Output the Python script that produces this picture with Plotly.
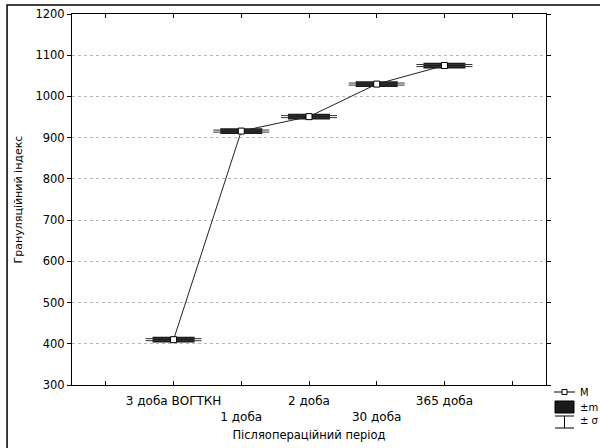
import plotly.graph_objects as go

# ---- data ----
categories = ["3 доба ВОГТКН", "1 доба", "2 доба", "30 доба", "365 доба"]
positions = [1, 2, 3, 4, 5]
mean_M = [410, 916, 951, 1030, 1075]
sem_m = [7, 7, 7, 7, 7]
sd_sigma = [2.5, 2.5, 2.5, 2.5, 2.5]
y_ticks = [300, 400, 500, 600, 700, 800, 900, 1000, 1100, 1200]

FONT = "DejaVu Sans"

# alternate labels between two rows
tick_vals = [0] + positions + [6]
tick_text = [""] + [c if i % 2 == 0 else "<br>" + c for i, c in enumerate(categories)] + [""]

fig = go.Figure()

# ±m boxes
fig.add_trace(go.Bar(
    x=positions,
    y=[2 * m for m in sem_m],
    base=[M - m for M, m in zip(mean_M, sem_m)],
    width=0.62,
    marker=dict(color="#1a1a1a", line=dict(width=0)),
    showlegend=False,
    hoverinfo="skip",
))

# ±σ whiskers
fig.add_trace(go.Scatter(
    x=positions, y=mean_M, mode="markers",
    marker=dict(size=1, color="rgba(0,0,0,0)"),
    error_y=dict(type="data", array=sd_sigma, color="#333333", thickness=1, width=28),
    showlegend=False, hoverinfo="skip",
))

# mean line and markers
fig.add_trace(go.Scatter(
    x=positions, y=mean_M, mode="lines+markers",
    line=dict(color="#222222", width=1),
    marker=dict(symbol="square", size=6, color="white", line=dict(color="black", width=1)),
    showlegend=False,
))

fig.update_layout(
    width=600, height=448,
    margin=dict(l=72, r=54, t=14, b=63, autoexpand=False),
    paper_bgcolor="white", plot_bgcolor="white",
    font=dict(family=FONT, size=11, color="black"),
    showlegend=False,
    xaxis=dict(
        range=[-0.5, 6.5], tickmode="array", tickvals=tick_vals, ticktext=tick_text,
        ticks="inside", ticklen=4, tickcolor="black", tickangle=0,
        showline=True, linecolor="black", linewidth=1, mirror="ticks",
        showgrid=False, zeroline=False, automargin=False,
        ticklabelstandoff=5,
        title=dict(text="Післяопераційний період", font=dict(size=11.5), standoff=7),
        tickfont=dict(size=12),
    ),
    yaxis=dict(
        range=[300, 1200], tickmode="array", tickvals=y_ticks,
        ticks="outside", ticklen=4, tickcolor="black",
        showline=True, linecolor="black", linewidth=1, mirror="ticks",
        showgrid=True, gridcolor="#b8b8b8", griddash="dot", gridwidth=1,
        zeroline=False, automargin=False,
        title=dict(text="Грануляційний індекс", font=dict(size=11), standoff=10),
        tickfont=dict(size=11.5),
    ),
)

# outer frame
fig.add_shape(type="rect", xref="paper", yref="paper",
              x0=-0.137, x1=1.2, y0=-0.3, y1=1.0243,
              line=dict(color="black", width=1.5), fillcolor="rgba(0,0,0,0)", layer="below")

# custom legend (paper coordinates)
def px(xp):
    return (xp - 72) / 474

def py(yp):
    return (385 - yp) / 371

# M symbol
fig.add_shape(type="line", xref="paper", yref="paper", x0=px(554), x1=px(575), y0=py(392), y1=py(392),
              line=dict(color="black", width=1))
fig.add_shape(type="rect", xref="paper", yref="paper", x0=px(562), x1=px(567), y0=py(389.5), y1=py(394.5),
              line=dict(color="black", width=1), fillcolor="white")
# ±m symbol
fig.add_shape(type="rect", xref="paper", yref="paper", x0=px(555), x1=px(574), y0=py(401), y1=py(413),
              line=dict(color="black", width=1), fillcolor="#1a1a1a")
# ±σ symbol
fig.add_shape(type="line", xref="paper", yref="paper", x0=px(555), x1=px(574), y0=py(416), y1=py(416),
              line=dict(color="black", width=1))
fig.add_shape(type="line", xref="paper", yref="paper", x0=px(564.5), x1=px(564.5), y0=py(416), y1=py(428),
              line=dict(color="black", width=1))
fig.add_shape(type="line", xref="paper", yref="paper", x0=px(555), x1=px(574), y0=py(428), y1=py(428),
              line=dict(color="black", width=1))

for txt, yp in [("M", 392), ("±m", 407), ("± σ", 421)]:
    fig.add_annotation(xref="paper", yref="paper", x=px(578), y=py(yp), text=txt,
                       showarrow=False, xanchor="left", yanchor="middle",
                       font=dict(family=FONT, size=10, color="black"))

fig.write_html("out.html", config={"displayModeBar": False},
               post_script="document.body.style.margin='0';")
